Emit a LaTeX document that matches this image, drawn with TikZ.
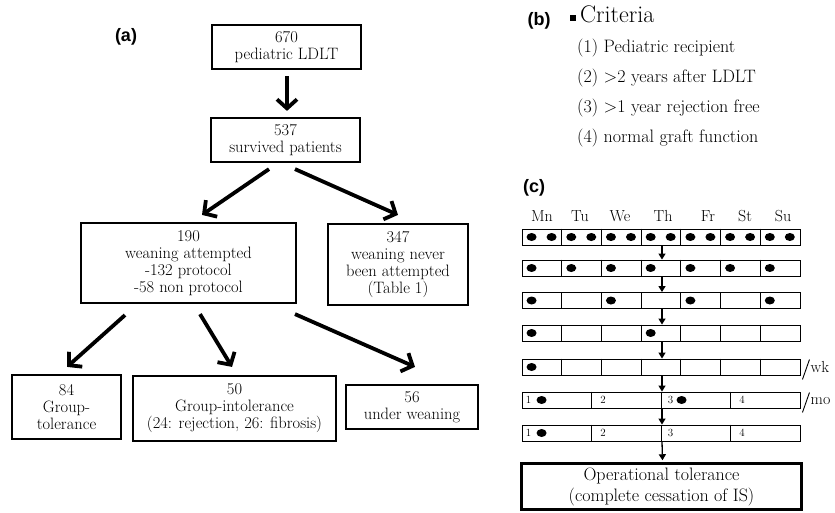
\documentclass[tikz,border=0pt]{standalone}
\usepackage{fontspec}
\newfontfamily\panelfont{Liberation Sans}
\usetikzlibrary{arrows.meta, positioning, calc}

\tikzset{
  flowbox/.style={draw, line width=2.2pt, align=center, inner sep=0pt,
    font=\fontsize{16.5}{17}\selectfont},
  bigarrow/.style={line width=3.8pt, -{Straight Barb[length=9pt,width=20pt]}},
  panellabel/.style={font=\panelfont\bfseries\fontsize{18}{20}\selectfont},
  itemtext/.style={anchor=west, inner sep=0pt, font=\fontsize{18}{20}\selectfont},
  daylabel/.style={inner sep=0pt, font=\fontsize{16}{18}\selectfont},
  dayrow/.style={draw, line width=0.9pt, minimum width=278pt, minimum height=16pt, inner sep=0pt},
  divider/.style={line width=0.9pt},
  weeknum/.style={inner sep=0pt, font=\fontsize{11}{12}\selectfont},
  smallarrow/.style={line width=1.3pt, -{Triangle[length=6pt,width=7pt]}},
}

\begin{document}
\begin{tikzpicture}[x=1pt, y=-1pt]
  \useasboundingbox (0,0) rectangle (835,512);

  % (a) patient flow
  \node[panellabel] (labA) at (126,37) {(a)};
  \node[flowbox, minimum width=149pt, minimum height=44pt] (ldlt) at (286.5,47) {670\\pediatric LDLT};
  \node[flowbox, minimum width=149pt, minimum height=44pt] (surv) at (285.5,140) {537\\survived patients};
  \node[flowbox, minimum width=215pt, minimum height=80pt] (att) at (188.5,263) {190\\weaning attempted\\-132 protocol\\-58 non protocol};
  \node[flowbox, minimum width=140pt, minimum height=81pt] (never) at (398,264.5) {347\\weaning never\\been attempted\\(Table 1)};
  \node[flowbox, minimum width=109pt, minimum height=64pt] (tol) at (66.5,407) {84\\Group-\\tolerance};
  \node[flowbox, minimum width=203pt, minimum height=65pt] (intol) at (234.5,408.5) {50\\Group-intolerance\\(24: rejection, 26: fibrosis)};
  \node[flowbox, minimum width=132pt, minimum height=44pt] (under) at (412,407) {56\\under weaning};

  \draw[bigarrow] ($(ldlt.south)+(0.5,6)$) -- ($(surv.north)+(1.5,-6)$);
  \draw[bigarrow] ($(surv.south)+(-16.5,6)$) -- ($(att.north)+(13.5,-7)$);
  \draw[bigarrow] ($(surv.south)+(9.5,6)$) -- ($(never.north)+(0,-8)$);
  \draw[bigarrow] ($(att.south)+(-63.5,11)$) -- ($(tol.north)+(0.5,-7)$);
  \draw[bigarrow] ($(att.south)+(11.5,10)$) -- ($(intol.north)+(-2.5,-8)$);
  \draw[bigarrow] ($(att.south)+(106.5,10)$) -- ($(under.north)+(3,-17)$);

  % (b) criteria
  \node[panellabel] (labB) at (539,21) {(b)};
  \node[fill, minimum size=6pt, inner sep=0pt] (bullet) at (573,18) {};
  \node[anchor=west, inner sep=0pt, font=\fontsize{24}{26}\selectfont] (crit) at (580,14) {Criteria};
  \node[itemtext] (crit1) at (577,48) {(1) Pediatric recipient};
  \node[itemtext] (crit2) at (577,78) {(2) >2 years after LDLT};
  \node[itemtext] (crit3) at (577,108) {(3) >1 year rejection free};
  \node[itemtext] (crit4) at (577,138) {(4) normal graft function};

  % (c) weaning schedule
  \node[panellabel] (labC) at (534,188) {(c)};
  \foreach \d/\x in {Mn/542,Tu/580,We/620,Th/663,Fr/708,St/745,Su/783}
    \node[daylabel] (day\d) at (\x,216) {\d};

  \foreach \r/\y in {1/237,2/268,3/300.5,4/333,5/367,6/400,7/433}
    \node[dayrow] (row\r) at (661,\y) {};

  % daily rows
  \foreach \r in {1,...,5}
    \foreach \k in {1,...,6}
      \draw[divider] ($(row\r.north west)!\k/7!(row\r.north east)$) -- ($(row\r.south west)!\k/7!(row\r.south east)$);
  \foreach \k in {0,...,6} {
    \fill ($(row1.west)+(\k*39.71+10,0)$) ellipse (5pt and 4pt);
    \fill ($(row1.west)+(\k*39.71+30,0)$) ellipse (5pt and 4pt);
    \fill ($(row2.west)+(\k*39.71+10,0)$) ellipse (5pt and 4pt);
  }
  \foreach \k in {0,2,4,6}
    \fill ($(row3.west)+(\k*39.71+10,0)$) ellipse (5pt and 4pt);
  \foreach \k in {0,3}
    \fill ($(row4.west)+(\k*39.71+10,0)$) ellipse (5pt and 4pt);
  \fill ($(row5.west)+(10,0)$) ellipse (5pt and 4pt);

  % weekly rows
  \foreach \r in {6,7}
    \foreach \k in {1,2,3}
      \draw[divider] ($(row\r.north west)!\k/4!(row\r.north east)$) -- ($(row\r.south west)!\k/4!(row\r.south east)$);
  \foreach \r in {6,7}
    \foreach \n/\x in {1/7,2/12,3/10,4/12}
      \node[weeknum] (wk\r-\n) at ($(row\r.west)+({(\n-1)*69.5+\x},0)$) {\n};
  \fill ($(row6.west)+(20,0)$) ellipse (5pt and 4pt);
  \fill ($(row6.west)+(160,0)$) ellipse (5pt and 4pt);
  \fill ($(row7.west)+(20,0)$) ellipse (5pt and 4pt);

  \draw[divider] ($(row5.south east)+(2,4)$) -- ($(row5.north east)+(9,1)$);
  \node[daylabel, anchor=west] (perwk) at ($(row5.east)+(10,0)$) {wk};
  \draw[divider] ($(row6.south east)+(2,4)$) -- ($(row6.north east)+(9,1)$);
  \node[daylabel, anchor=west] (permo) at ($(row6.east)+(10,1)$) {mo};

  \foreach \a/\b in {1/2,2/3,3/4,4/5,5/6,6/7}
    \draw[smallarrow] ($(row\a.south)+(1,0)$) -- ($(row\b.north)+(1,0)$);

  \node[flowbox, line width=3.5pt, minimum width=280pt, minimum height=46pt,
    font=\fontsize{18}{21}\selectfont] (optol) at (661.5,486.5) {Operational tolerance\\(complete cessation of IS)};
  \draw[smallarrow] ($(row7.south)+(1,0)$) -- ($(optol.north)+(1,-1.5)$);
\end{tikzpicture}
\end{document}
